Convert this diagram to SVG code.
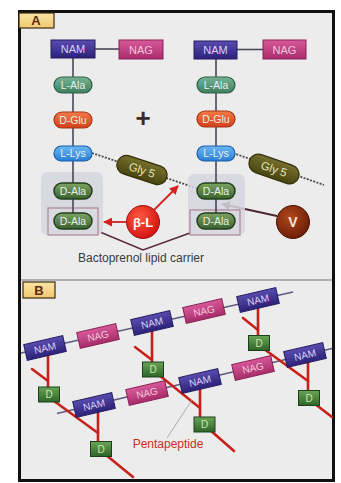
<svg xmlns="http://www.w3.org/2000/svg" width="341" height="483" viewBox="0 0 341 483">
  <defs>
    <linearGradient id="gNAM" x1="0" y1="0" x2="0" y2="1">
      <stop offset="0" stop-color="#5a4cb0"/>
      <stop offset="1" stop-color="#2c2278"/>
    </linearGradient>
    <linearGradient id="gNAG" x1="0" y1="0" x2="0" y2="1">
      <stop offset="0" stop-color="#d8599a"/>
      <stop offset="1" stop-color="#a82c6a"/>
    </linearGradient>
    <linearGradient id="gLAla" x1="0" y1="0" x2="0" y2="1">
      <stop offset="0" stop-color="#78b494"/>
      <stop offset="1" stop-color="#3e7e5e"/>
    </linearGradient>
    <linearGradient id="gDGlu" x1="0" y1="0" x2="0" y2="1">
      <stop offset="0" stop-color="#f47a48"/>
      <stop offset="1" stop-color="#d2401c"/>
    </linearGradient>
    <linearGradient id="gLLys" x1="0" y1="0" x2="0" y2="1">
      <stop offset="0" stop-color="#6cb8f4"/>
      <stop offset="1" stop-color="#2a7ed6"/>
    </linearGradient>
    <linearGradient id="gDAla" x1="0" y1="0" x2="0" y2="1">
      <stop offset="0" stop-color="#7ea466"/>
      <stop offset="1" stop-color="#3a6230"/>
    </linearGradient>
    <linearGradient id="gGly" x1="0" y1="0" x2="0" y2="1">
      <stop offset="0" stop-color="#76702e"/>
      <stop offset="1" stop-color="#48440f"/>
    </linearGradient>
    <linearGradient id="gD" x1="0" y1="0" x2="0" y2="1">
      <stop offset="0" stop-color="#6aa456"/>
      <stop offset="1" stop-color="#2e6428"/>
    </linearGradient>
    <linearGradient id="gLabel" x1="0" y1="0" x2="0" y2="1">
      <stop offset="0" stop-color="#fbe4a4"/>
      <stop offset="1" stop-color="#f0c870"/>
    </linearGradient>
    <radialGradient id="gBL" cx="0.4" cy="0.35" r="0.7">
      <stop offset="0" stop-color="#ff5a40"/>
      <stop offset="1" stop-color="#d01010"/>
    </radialGradient>
    <radialGradient id="gV" cx="0.4" cy="0.35" r="0.7">
      <stop offset="0" stop-color="#b0481c"/>
      <stop offset="1" stop-color="#6a1c06"/>
    </radialGradient>
    <marker id="arRed" viewBox="0 0 10 10" refX="9" refY="5" markerWidth="5" markerHeight="5" orient="auto">
      <path d="M0,0 L10,5 L0,10 z" fill="#d42020"/>
    </marker>
    <marker id="arDark" viewBox="0 0 10 10" refX="9" refY="5" markerWidth="5" markerHeight="5" orient="auto">
      <path d="M0,0 L10,5 L0,10 z" fill="#4a2a30"/>
    </marker>
    <style>
      text { font-family: "Liberation Sans", Arial, sans-serif; }
      .lbl { fill: url(#gLabel); stroke: #3a2a10; stroke-width: 1.2; }
      .lblt { font-size: 13px; font-weight: bold; fill: #5a2a10; text-anchor: middle; }
      .nam { fill: url(#gNAM); stroke: #241a60; stroke-width: 1; }
      .nag { fill: url(#gNAG); stroke: #8a2054; stroke-width: 1; }
      .bt { font-size: 11px; fill: #d8d0f4; text-anchor: middle; }
      .gt { font-size: 11px; fill: #f4c8dc; text-anchor: middle; }
      .pt { font-size: 10.5px; fill: #e8f0e8; text-anchor: middle; }
      .bt2 { font-size: 10px; fill: #d8d0f4; text-anchor: middle; }
      .gt2 { font-size: 10px; fill: #f4c8dc; text-anchor: middle; }
      .lala { fill: url(#gLAla); stroke: #2e5e48; stroke-width: 1.2; }
      .dglu { fill: url(#gDGlu); stroke: #a83414; stroke-width: 1.2; }
      .llys { fill: url(#gLLys); stroke: #1a5ea8; stroke-width: 1.2; }
      .dala { fill: url(#gDAla); stroke: #22401c; stroke-width: 1.5; }
      .gly { fill: url(#gGly); stroke: #33300a; stroke-width: 1.2; }
      .stem { stroke: #4a4a5a; stroke-width: 1.6; fill: none; }
      .dash { stroke: #4a4a4a; stroke-width: 1.8; stroke-dasharray: 2 1.4; fill: none; }
      .shade { fill: #d6d6e0; opacity: 0.85; }
      .pbox { fill: none; stroke: #b08494; stroke-width: 1.2; }
      .chain { stroke: #5c5c80; stroke-width: 1.6; fill: none; }
      .pep { stroke: #c8201a; stroke-width: 2.6; fill: none; stroke-linecap: round; }
      .dbox { fill: url(#gD); stroke: #1e3e1a; stroke-width: 1; }
      .dt { font-size: 10px; fill: #c8e8b0; text-anchor: middle; }
    </style>
  </defs>

  <!-- page and frame -->
  <rect x="0" y="0" width="341" height="483" fill="#ffffff"/>
  <rect x="19.5" y="11.5" width="314" height="469" fill="#ececec" stroke="#111" stroke-width="3"/>
  <line x1="21" y1="280" x2="332" y2="280" stroke="#777" stroke-width="1.2"/>

  <!-- ================= panel A ================= -->
  <g id="labelA">
    <rect class="lbl" x="19" y="13" width="35" height="15"/>
    <text class="lblt" x="36" y="25">A</text>
  </g>

  <!-- connectors of panel A -->
  <g id="connectorsA">
    <line class="stem" x1="95" y1="49" x2="119" y2="49"/>
    <line class="stem" x1="237" y1="49.5" x2="263" y2="49.5"/>
    <line class="stem" x1="73" y1="58" x2="73" y2="214"/>
    <line class="stem" x1="216" y1="59" x2="216" y2="214"/>
    <line class="dash" x1="92" y1="153" x2="199" y2="189"/>
    <line class="dash" x1="233" y1="153" x2="324" y2="185"/>
    <line x1="127" y1="222" x2="104" y2="222" stroke="#d42020" stroke-width="1.8" marker-end="url(#arRed)"/>
    <line x1="154" y1="210" x2="178" y2="186" stroke="#d42020" stroke-width="1.8" marker-end="url(#arRed)"/>
    <line x1="277" y1="216" x2="222" y2="204" stroke="#4a2a30" stroke-width="1.8" marker-end="url(#arDark)"/>
    <polyline points="100,232 143,250 190,233" fill="none" stroke="#5a2a3a" stroke-width="1.5"/>
  </g>

  <g id="carrierL">
    <rect class="shade" x="41" y="172" width="62" height="63" rx="6"/>
    <rect class="pbox" x="48" y="208" width="50" height="27"/>
  </g>
  <g id="carrierR">
    <rect class="shade" x="188" y="174" width="57" height="61" rx="6"/>
    <rect class="pbox" x="190" y="210" width="50" height="25"/>
  </g>
  <!-- stems redrawn over the shading -->
  <line class="stem" x1="73" y1="172" x2="73" y2="214"/>
  <line class="stem" x1="216" y1="174" x2="216" y2="214"/>

  <g id="namL"><rect class="nam" x="51" y="40" width="44" height="18"/><text class="bt" x="73" y="53">NAM</text></g>
  <g id="nagL"><rect class="nag" x="119" y="40" width="44" height="19"/><text class="gt" x="141" y="53.5">NAG</text></g>
  <g id="lalaL"><rect class="lala" x="54" y="77" width="38" height="16" rx="8"/><text class="pt" x="73" y="88.5">L-Ala</text></g>
  <g id="dgluL"><rect class="dglu" x="54" y="112" width="38" height="16" rx="8"/><text class="pt" x="73" y="123.5">D-Glu</text></g>
  <g id="llysL"><rect class="llys" x="54" y="146" width="38" height="15" rx="7.5"/><text class="pt" x="73" y="157">L-Lys</text></g>
  <g id="dala1L"><rect class="dala" x="54" y="183" width="38" height="16" rx="8"/><text class="pt" x="73" y="194.5">D-Ala</text></g>
  <g id="dala2L"><rect class="dala" x="54" y="213" width="38" height="16" rx="8"/><text class="pt" x="73" y="224.5">D-Ala</text></g>
  <g id="glyL" transform="translate(142,170) rotate(18)"><rect class="gly" x="-26" y="-9.5" width="52" height="19" rx="9.5"/><text x="0" y="4" font-size="11.5" fill="#ece4b8" text-anchor="middle">Gly 5</text></g>

  <g id="plus"><text x="143" y="127" font-size="26" font-weight="bold" fill="#3a2a2a" text-anchor="middle">+</text></g>

  <g id="namR"><rect class="nam" x="194" y="41" width="43" height="18"/><text class="bt" x="215.5" y="54">NAM</text></g>
  <g id="nagR"><rect class="nag" x="263" y="40" width="43" height="19"/><text class="gt" x="284.5" y="53.5">NAG</text></g>
  <g id="lalaR"><rect class="lala" x="197" y="77" width="38" height="16" rx="8"/><text class="pt" x="216" y="88.5">L-Ala</text></g>
  <g id="dgluR"><rect class="dglu" x="197" y="111" width="38" height="16" rx="8"/><text class="pt" x="216" y="122.5">D-Glu</text></g>
  <g id="llysR"><rect class="llys" x="197" y="146" width="38" height="15" rx="7.5"/><text class="pt" x="216" y="157">L-Lys</text></g>
  <g id="dala1R"><rect class="dala" x="197" y="183" width="38" height="16" rx="8"/><text class="pt" x="216" y="194.5">D-Ala</text></g>
  <g id="dala2R"><rect class="dala" x="197" y="213" width="38" height="16" rx="8"/><text class="pt" x="216" y="224.5">D-Ala</text></g>
  <g id="glyR" transform="translate(274,169) rotate(19)"><rect class="gly" x="-26" y="-9.5" width="52" height="19" rx="9.5"/><text x="0" y="4" font-size="11.5" fill="#ece4b8" text-anchor="middle">Gly 5</text></g>

  <g id="betaLactam"><circle cx="143" cy="222" r="16.5" fill="url(#gBL)" stroke="#a01010" stroke-width="1"/><text x="143" y="226.5" font-size="13" font-weight="bold" fill="#fff" text-anchor="middle">β-L</text></g>
  <g id="vancomycin"><circle cx="293" cy="222" r="16.5" fill="url(#gV)" stroke="#4a1204" stroke-width="1"/><text x="293" y="227" font-size="14" font-weight="bold" fill="#f4e4d4" text-anchor="middle">V</text></g>

  <g id="carrierLabel"><text x="141" y="262" font-size="12" fill="#3a3a3a" text-anchor="middle">Bactoprenol lipid carrier</text></g>

  <!-- ================= panel B ================= -->
  <g id="labelB">
    <rect class="lbl" x="23" y="282" width="32" height="16"/>
    <text class="lblt" x="39" y="295">B</text>
  </g>

  <g id="connectorsB">
    <!-- glycan strands -->
    <line class="chain" x1="21" y1="353" x2="293" y2="292"/>
    <line class="chain" x1="57" y1="413.5" x2="332" y2="348.5"/>
    <!-- pentapeptide stems -->
    <line class="pep" x1="48" y1="356" x2="48" y2="388"/>
    <line class="pep" x1="152" y1="330" x2="152" y2="363"/>
    <line class="pep" x1="258" y1="306" x2="258" y2="336"/>
    <line class="pep" x1="98" y1="412" x2="98" y2="442"/>
    <line class="pep" x1="200" y1="388" x2="200" y2="418"/>
    <line class="pep" x1="308" y1="362" x2="308" y2="391"/>
    <!-- cross-bridges -->
    <line class="pep" x1="32" y1="369" x2="48" y2="381"/>
    <line class="pep" x1="135" y1="347" x2="152" y2="360"/>
    <line class="pep" x1="243" y1="318" x2="258" y2="330"/>
    <line class="pep" x1="54" y1="401" x2="98" y2="433"/>
    <line class="pep" x1="159" y1="375" x2="200" y2="408"/>
    <line class="pep" x1="264" y1="349" x2="308" y2="381"/>
    <line class="pep" x1="106" y1="455" x2="133" y2="477"/>
    <line class="pep" x1="210" y1="430" x2="234" y2="451"/>
    <line class="pep" x1="315" y1="404" x2="332" y2="417"/>
    <!-- label pointer -->
    <line x1="167" y1="438" x2="192" y2="400" stroke="#9a9aa0" stroke-width="0.8"/>
  </g>

  <g id="bNam1" transform="translate(45,348) rotate(-13)"><rect class="nam" x="-20" y="-8" width="40" height="16"/><text class="bt2" x="0" y="3.5">NAM</text></g>
  <g id="bNag1" transform="translate(98,336) rotate(-13)"><rect class="nag" x="-20" y="-8" width="40" height="16"/><text class="gt2" x="0" y="3.5">NAG</text></g>
  <g id="bNam2" transform="translate(152,323) rotate(-13)"><rect class="nam" x="-20" y="-8" width="40" height="16"/><text class="bt2" x="0" y="3.5">NAM</text></g>
  <g id="bNag2" transform="translate(204,311) rotate(-13)"><rect class="nag" x="-20" y="-8" width="40" height="16"/><text class="gt2" x="0" y="3.5">NAG</text></g>
  <g id="bNam3" transform="translate(258,300) rotate(-13)"><rect class="nam" x="-20" y="-8" width="40" height="16"/><text class="bt2" x="0" y="3.5">NAM</text></g>

  <g id="bNam4" transform="translate(94,405) rotate(-13)"><rect class="nam" x="-20" y="-8" width="40" height="16"/><text class="bt2" x="0" y="3.5">NAM</text></g>
  <g id="bNag3" transform="translate(147,393) rotate(-13)"><rect class="nag" x="-20" y="-8" width="40" height="16"/><text class="gt2" x="0" y="3.5">NAG</text></g>
  <g id="bNam5" transform="translate(200,381) rotate(-13)"><rect class="nam" x="-20" y="-8" width="40" height="16"/><text class="bt2" x="0" y="3.5">NAM</text></g>
  <g id="bNag4" transform="translate(253,368) rotate(-13)"><rect class="nag" x="-20" y="-8" width="40" height="16"/><text class="gt2" x="0" y="3.5">NAG</text></g>
  <g id="bNam6" transform="translate(305,355) rotate(-13)"><rect class="nam" x="-20" y="-8" width="40" height="16"/><text class="bt2" x="0" y="3.5">NAM</text></g>

  <g id="bD1"><rect class="dbox" x="38.5" y="387" width="21" height="15"/><text class="dt" x="49" y="398">D</text></g>
  <g id="bD2"><rect class="dbox" x="142.5" y="362" width="21" height="15"/><text class="dt" x="153" y="373">D</text></g>
  <g id="bD3"><rect class="dbox" x="248.5" y="335.5" width="21" height="15"/><text class="dt" x="259" y="346.5">D</text></g>
  <g id="bD4"><rect class="dbox" x="90.5" y="441.5" width="21" height="15"/><text class="dt" x="101" y="452.5">D</text></g>
  <g id="bD5"><rect class="dbox" x="194" y="417" width="21" height="15"/><text class="dt" x="204.5" y="428">D</text></g>
  <g id="bD6"><rect class="dbox" x="298.5" y="390.5" width="21" height="15"/><text class="dt" x="309" y="401.5">D</text></g>

  <g id="pentapeptideLabel"><text x="168" y="448" font-size="12" fill="#c8301a" text-anchor="middle">Pentapeptide</text></g>
</svg>
